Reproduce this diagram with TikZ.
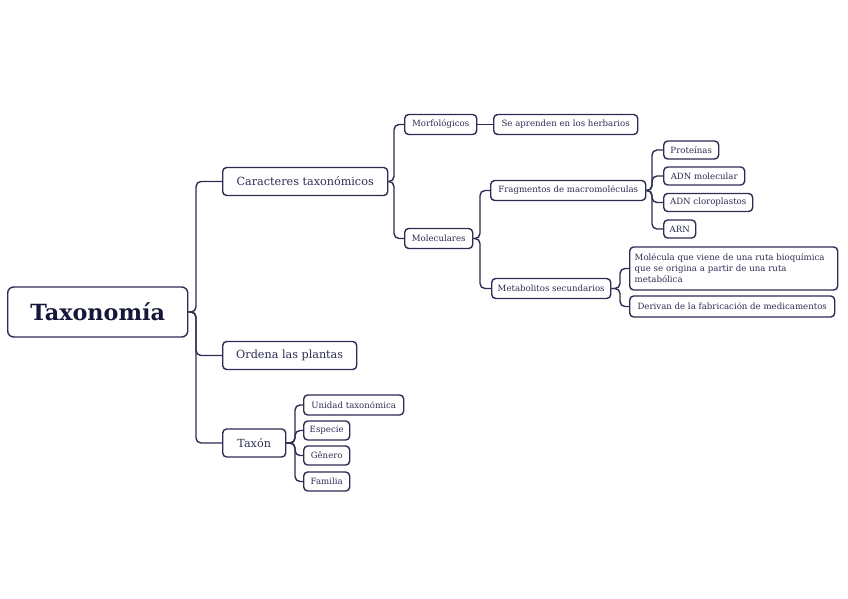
\documentclass[tikz,border=0pt]{standalone}
\usepackage{fontspec}
\setmainfont{DejaVu Serif}
\definecolor{ink}{HTML}{2B2D52}
\definecolor{inkdark}{HTML}{14163A}
\begin{document}
\begin{tikzpicture}[x=1pt,y=-1pt,
  box/.style={draw=ink,line width=1.4pt,rounded corners=4pt,fill=white,text=ink,inner ysep=0pt,inner xsep=0pt,align=center,anchor=west},
  root/.style={box,minimum width=180pt,minimum height=50pt,font=\fontsize{22.3}{26}\selectfont\bfseries,text=inkdark,rounded corners=6pt},
  lvone/.style={box,minimum height=28pt,font=\fontsize{11.2}{13}\selectfont},
  lvtwo/.style={box,minimum height=20pt,font=\fontsize{8.6}{11}\selectfont},
  bw/.style={minimum width=#1},
  conn/.style={draw=ink,line width=1.4pt,rounded corners=5pt}]
\useasboundingbox (0,0) rectangle (848,599);
% root
\node[root] (tax) at (7,312) {Taxonomía};
% level 1
\node[lvone,bw=165pt] (car) at (222,181.5) {Caracteres taxonómicos};
\node[lvone,bw=134pt] (ord) at (222,355.5) {Ordena las plantas};
\node[lvone,bw=63pt] (txn) at (222,443) {Taxón};
% level 2 under Caracteres
\node[lvtwo,bw=72pt] (mor) at (404,124.5) {Morfológicos};
\node[lvtwo,bw=144pt] (her) at (493,124.5) {Se aprenden en los herbarios};
\node[lvtwo,bw=68pt] (mol) at (404,238.5) {Moleculares};
\node[lvtwo,bw=155pt] (fra) at (490,190.5) {Fragmentos de macromoléculas};
\node[lvtwo,bw=119pt] (met) at (491,288.5) {Metabolitos secundarios};
\node[lvtwo,bw=55pt,minimum height=18pt] (pro) at (663,150) {Proteínas};
\node[lvtwo,bw=81pt,minimum height=18pt] (adm) at (663,176) {ADN molecular};
\node[lvtwo,bw=89pt,minimum height=18pt] (adc) at (663,202.5) {ADN cloroplastos};
\node[lvtwo,bw=32pt,minimum height=18pt] (arn) at (663,229) {ARN};
\node[lvtwo,inner xsep=5pt,text width=198pt,align=left,minimum height=43pt] (mlc) at (629,268.5) {Molécula que viene de una ruta bioquímica\\que se origina a partir de una ruta\\metabólica};
\node[lvtwo,bw=205pt,minimum height=21pt] (der) at (629,306.5) {Derivan de la fabricación de medicamentos};
% level 2 under Taxon
\node[lvtwo,bw=100pt] (uni) at (303,405) {Unidad taxonómica};
\node[lvtwo,bw=46pt,minimum height=19pt] (esp) at (303,430.5) {Especie};
\node[lvtwo,bw=46pt,minimum height=19pt] (gen) at (303,455.5) {Gênero};
\node[lvtwo,bw=46pt,minimum height=19pt] (fam) at (303,481.5) {Familia};
% bus coordinates
\coordinate (b0) at (196,0);
\coordinate (b1) at (394,0);
\coordinate (b2) at (480,0);
\coordinate (b3) at (652,0);
\coordinate (b4) at (620,0);
\coordinate (b5) at (295,0);
% connectors
\foreach \c in {car,ord,txn} \draw[conn] (tax.east) -- (tax.east -| b0) |- (\c.west);
\foreach \c in {mor,mol} \draw[conn] (car.east) -- (car.east -| b1) |- (\c.west);
\draw[conn] (mor.east) -- (her.west);
\foreach \c in {fra,met} \draw[conn] (mol.east) -- (mol.east -| b2) |- (\c.west);
\foreach \c in {pro,adm,adc,arn} \draw[conn] (fra.east) -- (fra.east -| b3) |- (\c.west);
\foreach \c in {mlc,der} \draw[conn] (met.east) -- (met.east -| b4) |- (\c.west);
\foreach \c in {uni,esp,gen,fam} \draw[conn] (txn.east) -- (txn.east -| b5) |- (\c.west);
\end{tikzpicture}
\end{document}
